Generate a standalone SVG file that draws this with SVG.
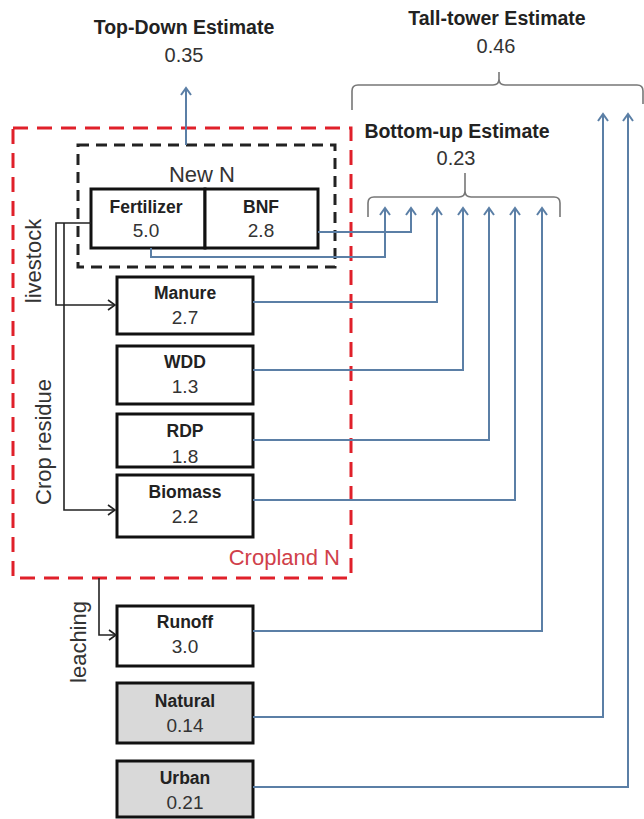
<svg xmlns="http://www.w3.org/2000/svg" width="644" height="819" viewBox="0 0 644 819">
<style>
.box{fill:#fff;stroke:#111;stroke-width:3}
.gray{fill:#d9d9d9}
.lbl{font-family:"Liberation Sans",Arial,sans-serif;font-size:17.5px;font-weight:bold;fill:#222;text-anchor:middle}
.num{font-family:"Liberation Sans",Arial,sans-serif;font-size:19px;fill:#333;text-anchor:middle}
.enum{font-family:"Liberation Sans",Arial,sans-serif;font-size:20px;fill:#333;text-anchor:middle}
.est{font-family:"Liberation Sans",Arial,sans-serif;font-size:19.5px;font-weight:bold;fill:#222;text-anchor:middle}
.side{font-family:"Liberation Sans",Arial,sans-serif;font-size:22px;fill:#333;text-anchor:middle}
.blue{fill:none;stroke:#5b7fa6;stroke-width:2}
.blk{fill:none;stroke:#222;stroke-width:1.6}
.brace{fill:none;stroke:#777;stroke-width:1.6}
</style>
<defs>
<marker id="ab" markerWidth="12" markerHeight="12" refX="10" refY="6" orient="auto" markerUnits="userSpaceOnUse">
<polyline points="3,1 10,6 3,11" fill="none" stroke="#5b7fa6" stroke-width="2"/>
</marker>
<marker id="ak" markerWidth="12" markerHeight="12" refX="10" refY="6" orient="auto" markerUnits="userSpaceOnUse">
<polyline points="3,1 10,6 3,11" fill="none" stroke="#222" stroke-width="1.6"/>
</marker>
</defs>
<rect width="644" height="819" fill="#fff"/>

<g id="cropland">
<rect x="13" y="128" width="338" height="450" fill="none" stroke="#e0202a" stroke-width="3" stroke-dasharray="15,9"/>
<text x="340" y="565" font-family="Liberation Sans, Arial, sans-serif" font-size="22" fill="#d0404a" text-anchor="end">Cropland N</text>
</g>
<g id="newN">
<rect x="78" y="145" width="257" height="122" fill="none" stroke="#222" stroke-width="3" stroke-dasharray="11,7"/>
<text x="202" y="182" font-family="Liberation Sans, Arial, sans-serif" font-size="22" fill="#333" text-anchor="middle">New N</text>
</g>

<g id="estimates">
<text class="est" x="184" y="34">Top-Down Estimate</text>
<text class="enum" x="184" y="62">0.35</text>
<text class="est" x="497" y="25">Tall-tower Estimate</text>
<text class="enum" x="496" y="53">0.46</text>
<text class="est" x="457" y="138">Bottom-up Estimate</text>
<text class="enum" x="456" y="165">0.23</text>
<path class="brace" d="M352,110 V91 Q352,85 358,85 H493 Q499,85 499,79 V72 M499,79 Q499,85 505,85 H637 Q643,85 643,91 V104"/>
<path class="brace" d="M368,217 V203 Q368,197 374,197 H459 Q465,197 465,191 V173 M465,191 Q465,197 471,197 H554 Q560,197 560,203 V217"/>
</g>

<g id="fertilizer">
<rect class="box" x="91" y="189" width="114" height="59"/>
<text class="lbl" x="146" y="213">Fertilizer</text>
<text class="num" x="146" y="237">5.0</text>
</g>
<g id="bnf">
<rect class="box" x="205" y="189" width="113" height="59"/>
<text class="lbl" x="261" y="213">BNF</text>
<text class="num" x="261" y="237">2.8</text>
</g>
<g id="manure">
<rect class="box" x="117" y="277" width="136" height="57"/>
<text class="lbl" x="185" y="299">Manure</text>
<text class="num" x="185" y="324">2.7</text>
</g>
<g id="wdd">
<rect class="box" x="117" y="346" width="136" height="58"/>
<text class="lbl" x="185" y="368">WDD</text>
<text class="num" x="185" y="393">1.3</text>
</g>
<g id="rdp">
<rect class="box" x="117" y="414" width="136" height="53"/>
<text class="lbl" x="185" y="437">RDP</text>
<text class="num" x="185" y="463">1.8</text>
</g>
<g id="biomass">
<rect class="box" x="117" y="475" width="136" height="62"/>
<text class="lbl" x="185" y="498">Biomass</text>
<text class="num" x="185" y="523">2.2</text>
</g>
<g id="runoff">
<rect class="box" x="117" y="606" width="136" height="60"/>
<text class="lbl" x="185" y="628">Runoff</text>
<text class="num" x="185" y="653">3.0</text>
</g>
<g id="natural">
<rect class="box gray" x="117" y="683" width="136" height="60"/>
<text class="lbl" x="185" y="707">Natural</text>
<text class="num" x="185" y="732">0.14</text>
</g>
<g id="urban">
<rect class="box gray" x="117" y="761" width="136" height="56"/>
<text class="lbl" x="185" y="784">Urban</text>
<text class="num" x="185" y="809">0.21</text>
</g>

<g id="sidelabels">
<text class="side" transform="translate(41,261) rotate(-90)">livestock</text>
<text class="side" transform="translate(51,442) rotate(-90)">Crop residue</text>
<text class="side" transform="translate(86,642) rotate(-90)">leaching</text>
</g>

<g id="connectors">
<path class="blue" d="M186,145 V88" marker-end="url(#ab)"/>
<path class="blue" d="M151,248 V257 H385 V208" marker-end="url(#ab)"/>
<path class="blue" d="M318,232 H411 V208" marker-end="url(#ab)"/>
<path class="blue" d="M253,302 H437 V208" marker-end="url(#ab)"/>
<path class="blue" d="M253,370 H463 V208" marker-end="url(#ab)"/>
<path class="blue" d="M253,440 H489 V208" marker-end="url(#ab)"/>
<path class="blue" d="M253,500 H515 V208" marker-end="url(#ab)"/>
<path class="blue" d="M253,631 H542 V208" marker-end="url(#ab)"/>
<path class="blue" d="M253,717 H603 V114" marker-end="url(#ab)"/>
<path class="blue" d="M253,787 H628 V114" marker-end="url(#ab)"/>
<path class="blk" d="M91,223 H56 V305 H115" marker-end="url(#ak)"/>
<path class="blk" d="M64,223 V510 H115" marker-end="url(#ak)"/>
<path class="blk" d="M99,578 V635 H116" marker-end="url(#ak)"/>
</g>
</svg>
